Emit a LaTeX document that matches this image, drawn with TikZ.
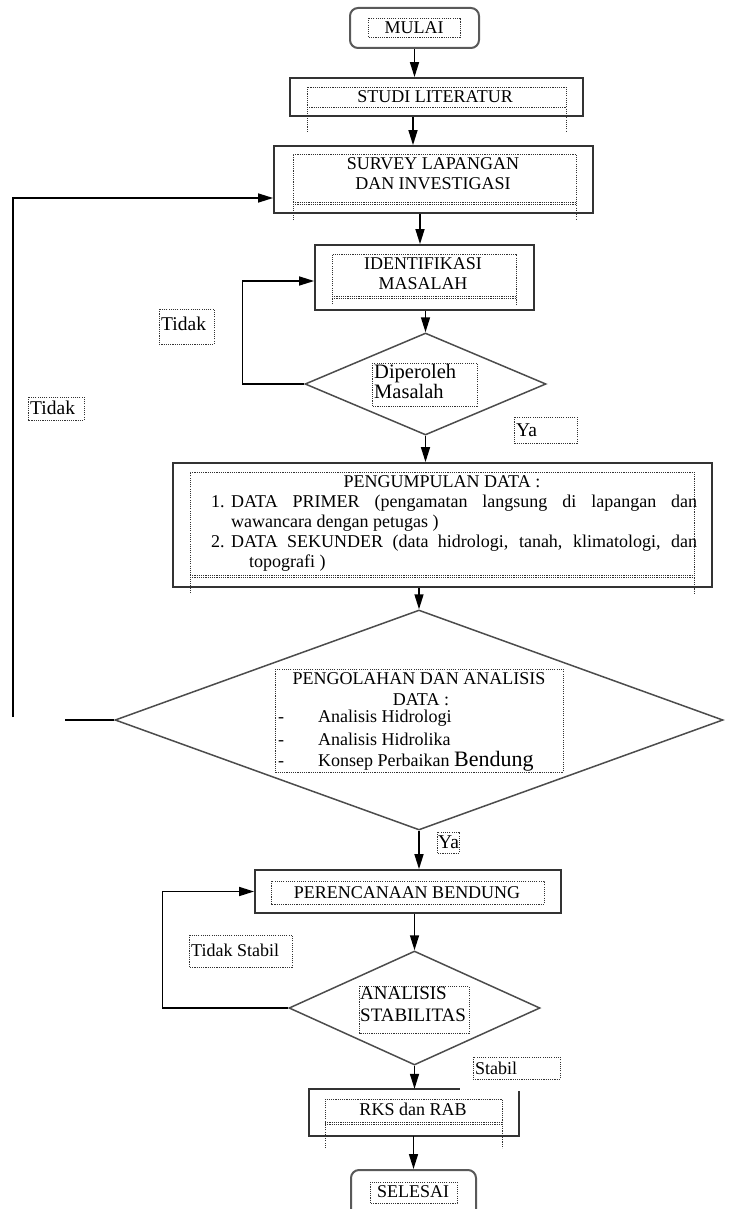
\documentclass[tikz,border=0pt]{standalone}
\usepackage{fontspec}
\setmainfont{Liberation Serif}
\usetikzlibrary{arrows.meta,shapes.geometric,calc}
\tikzset{
  box/.style={draw=black!80, line width=1.8pt, inner sep=0pt},
  term/.style={draw=black!65, line width=2pt, rounded corners=8pt, inner sep=0pt},
  dia/.style={draw=black!70, line width=1.5pt, shape=diamond, inner sep=0pt},
  dotbox/.style={draw=black!80, line width=0.9pt, dash pattern=on 1.1pt off 1.1pt},
  arr/.style={draw=black, line width=1.5pt, -{Triangle[length=15pt,width=9pt]}},
  conn/.style={draw=black, line width=1.5pt},
  txt/.style={inner sep=0pt, font=\fontsize{18pt}{20pt}\selectfont},
  lbl/.style={inner sep=0pt, anchor=west, font=\fontsize{19.5pt}{21pt}\selectfont},
}
\begin{document}
\begin{tikzpicture}[x=1pt,y=-1pt]
\useasboundingbox (0,0) rectangle (732,1209);

% ---------- MULAI
\node[term, minimum width=129pt, minimum height=40pt] (mulai) at (414.5,28) {};
\draw[dotbox] (368,18) rectangle (460,37);
\node[txt] (tmulai) at (414,28) {MULAI};

% ---------- STUDI LITERATUR
\node[box, minimum width=293pt, minimum height=38pt] (studi) at (436.5,97) {};
\draw[dotbox] (307,132) -- (307,87) -- (566,87) -- (566,132);
\draw[dotbox] (307,107) -- (566,107);
\node[txt] (tstudi) at (435,97) {STUDI LITERATUR};

% ---------- SURVEY
\node[box, minimum width=319pt, minimum height=67pt] (survey) at (433.5,179.5) {};
\draw[dotbox] (293,220) -- (293,154) -- (576,154) -- (576,220);
\draw[dotbox] (293,202) -- (576,202);
\draw[dotbox] (293,204) -- (576,204);
\node[txt, align=center] (tsurvey) at (433,174) {SURVEY LAPANGAN\\DAN INVESTIGASI};

% ---------- IDENTIFIKASI
\node[box, minimum width=219pt, minimum height=65pt] (ident) at (424.5,277.5) {};
\draw[dotbox] (332,304) -- (332,254) -- (516,254) -- (516,304);
\draw[dotbox] (332,296) -- (516,296);
\draw[dotbox] (332,298) -- (516,298);
\node[txt, align=center] (tident) at (423,274) {IDENTIFIKASI\\MASALAH};

% ---------- Diamond 1
\node[dia, minimum width=241pt, minimum height=102pt] (d1) at (425.5,384) {};
\draw[dotbox] (372,363) rectangle (477,406);
\node[lbl, font=\fontsize{20.5pt}{20pt}\selectfont, align=left, anchor=north west] (td1) at (374,364) {Diperoleh\\Masalah};

% ---------- PENGUMPULAN DATA
\node[box, minimum width=539pt, minimum height=124pt] (peng) at (442.5,525) {};
\draw[dotbox] (190,593) -- (190,472) -- (694,472) -- (694,593);
\draw[dotbox] (190,575) -- (694,575);
\draw[dotbox] (190,577) -- (694,577);
\node[txt] (tpeng) at (442,482) {PENGUMPULAN DATA :};
\node[txt, anchor=north west, text width=486pt, align=justify] (titems) at (211,495) {%
\hangindent=20pt\hangafter=1\noindent\makebox[20pt][l]{1.}DATA PRIMER (pengamatan langsung di lapangan dan\linebreak wawancara dengan petugas )\par
\hangindent=20pt\hangafter=1\noindent\makebox[20pt][l]{2.}DATA SEKUNDER (data hidrologi, tanah, klimatologi, dan\linebreak\hspace*{18pt}topografi )\par};

% ---------- Diamond 2
\node[dia, minimum width=608pt, minimum height=220pt] (d2) at (419,720) {};
\draw[dotbox] (275,669) rectangle (563,772);
\node[txt] (tpg1) at (419,679) {PENGOLAHAN DAN ANALISIS};
\node[txt] (tpg2) at (421,700) {DATA :};
\node[txt, anchor=west] (tpg3) at (278,718) {\makebox[40pt][l]{-}Analisis Hidrologi};
\node[txt, anchor=west] (tpg4) at (278,739) {\makebox[40pt][l]{-}Analisis Hidrolika};
\node[txt, anchor=west] (tpg5) at (278,761) {\makebox[40pt][l]{-}Konsep Perbaikan {\fontsize{22pt}{22pt}\selectfont Bendung}};

% ---------- PERENCANAAN
\node[box, minimum width=306pt, minimum height=43pt] (plan) at (408,891.5) {};
\draw[dotbox] (271,881) rectangle (544,904);
\node[txt] (tplan) at (407,893) {PERENCANAAN BENDUNG};

% ---------- Diamond 3
\node[dia, minimum width=251pt, minimum height=114pt] (d3) at (414.5,1008) {};
\draw[dotbox] (359,986) rectangle (469,1033);
\node[lbl, font=\fontsize{19pt}{22pt}\selectfont, align=left, anchor=north west] (td3) at (360,987) {ANALISIS\\STABILITAS};

% ---------- RKS
\node[inner sep=0pt, minimum width=210pt, minimum height=47pt] (rks) at (414,1112.5) {};
\draw[black!80, line width=1.8pt] ($(rks.north west)+(151,0)$) -- (rks.north west) -- (rks.south west) -- (rks.south east) -- ($(rks.north east)+(0,2)$);
\draw[dotbox] (325,1148) -- (325,1099) -- (502,1099) -- (502,1148);
\draw[dotbox] (325,1122) -- (502,1122);
\draw[dotbox] (325,1124) -- (502,1124);
\node[txt] (trks) at (413,1109) {RKS dan RAB};

% ---------- SELESAI
\node[term, minimum width=125pt, minimum height=50pt] (selesai) at (413.5,1195) {};
\draw[dotbox] (370,1182) rectangle (457,1203);
\node[txt] (tselesai) at (413,1192) {SELESAI};

% ---------- labels
\draw[dotbox] (159,309) rectangle (214,344);
\node[lbl] (ltidak1) at (161,324) {Tidak};
\draw[dotbox] (28,397) rectangle (84,420);
\node[lbl] (ltidak2) at (30,408) {Tidak};
\draw[dotbox] (514,417) rectangle (577,443);
\node[lbl] (lya1) at (516,430) {Ya};
\draw[dotbox] (437,832) rectangle (459,853);
\node[lbl] (lya2) at (438,842) {Ya};
\draw[dotbox] (189,935) rectangle (292,967);
\node[lbl, font=\fontsize{18pt}{20pt}\selectfont] (ltstabil) at (191,950) {Tidak Stabil};
\draw[dotbox] (473,1057) rectangle (560,1079);
\node[lbl, font=\fontsize{18pt}{20pt}\selectfont] (lstabil) at (475,1068) {Stabil};

% ---------- connectors
\draw[arr] (mulai.south) -- (mulai.south |- studi.north);
\draw[arr] ([xshift=-23.5pt]studi.south) -- ([xshift=-23.5pt]studi.south |- survey.north);
\draw[arr] ([xshift=-13.5pt]survey.south) -- ([xshift=-13.5pt]survey.south |- ident.north);
\draw[arr] (d1.north |- ident.south) -- (d1.north);
\draw[arr] (d1.south) -- (d1.south |- peng.north);
\draw[arr] (d2.north |- peng.south) -- (d2.north);
\draw[arr] (d2.south) -- (d2.south |- plan.north);
\draw[arr] (d3.north |- plan.south) -- (d3.north);
\draw[arr] (d3.south) -- (d3.south |- rks.north);
\draw[arr] (selesai.north |- rks.south) -- (selesai.north);

% loop: Diperoleh Masalah -> Tidak -> IDENTIFIKASI
\coordinate (c1) at ($(d1.west)+(-62,0)$);
\coordinate (identin) at ($(ident.west)+(0,3.5)$);
\draw[arr] (d1.west) -- (c1) |- (identin);

% loop: Pengolahan -> Tidak -> SURVEY (broken as in the original)
\coordinate (c2a) at ($(d2.west)+(-49,0)$);
\coordinate (c2b) at (13,717);
\coordinate (surveyin) at ($(survey.west)+(0,18.5)$);
\draw[conn] (d2.west) -- (c2a);
\draw[arr] (c2b) |- (surveyin);

% loop: Analisis Stabilitas -> Tidak Stabil -> PERENCANAAN
\coordinate (c3) at ($(d3.west)+(-126,0)$);
\draw[arr] (d3.west) -- (c3) |- (plan.west);
\end{tikzpicture}
\end{document}
